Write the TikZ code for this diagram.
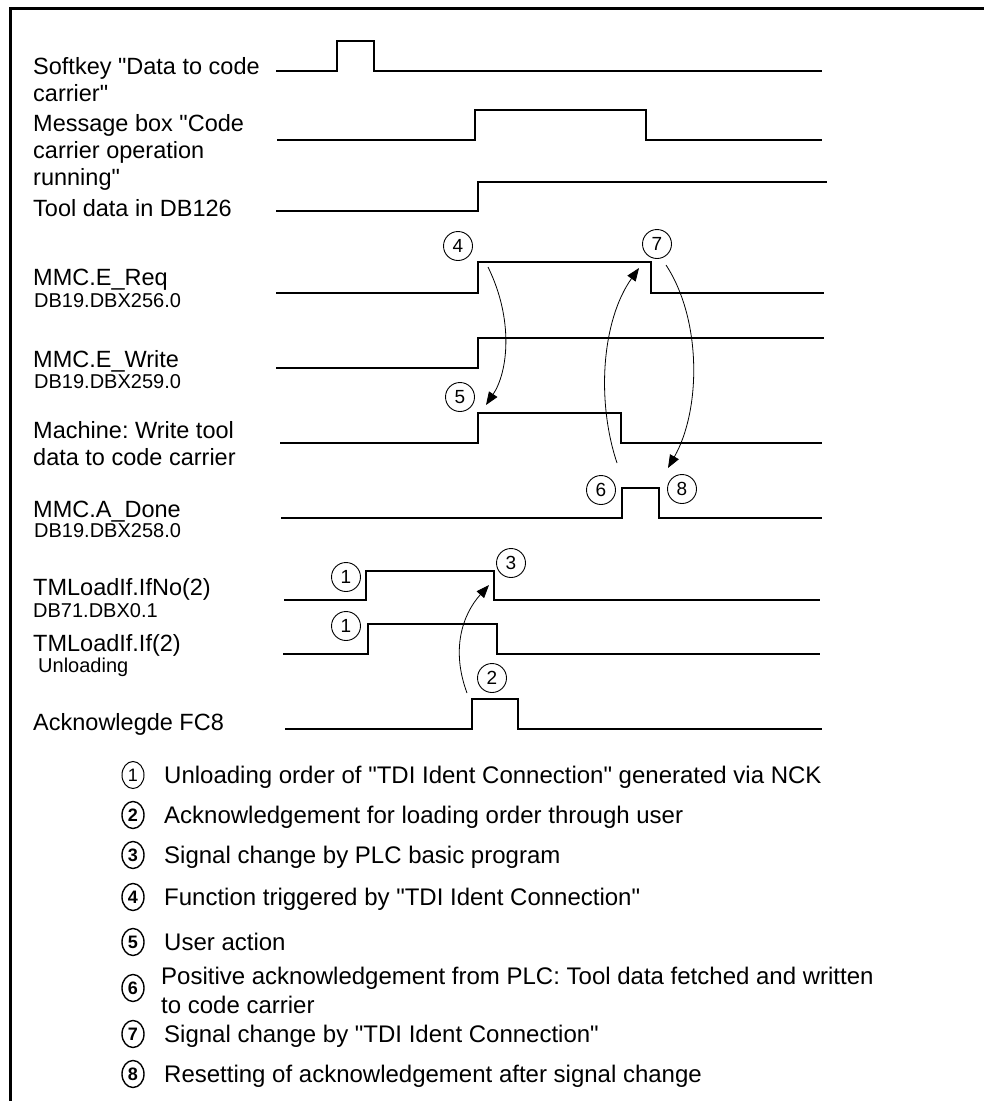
\documentclass[tikz,border=0pt]{standalone}
\usepackage{fontspec}
\setmainfont{Liberation Sans}[Ligatures=TeXOff]
\usetikzlibrary{shapes, arrows.meta, positioning}
\frenchspacing

\begin{document}
\begin{tikzpicture}[
    x=1pt, y=-1pt,
    signal/.style={line width=2.6pt},
    frame/.style={line width=2.8pt},
    signame/.style={anchor=base west, inner sep=0pt, align=left, font=\fontsize{23.5}{27}\selectfont},
    address/.style={anchor=base west, inner sep=0pt, font=\fontsize{20}{22}\selectfont},
    marker/.style={circle, draw, line width=0.9pt, minimum size=29pt, inner sep=0pt, font=\fontsize{19}{19}\selectfont},
    keymark/.style={ellipse, draw, line width=1.4pt, minimum width=22pt, minimum height=27pt, inner sep=0pt, font=\fontsize{18}{18}\selectfont\bfseries},
    keytext/.style={anchor=base west, inner sep=0pt, align=left, font=\fontsize{24}{29}\selectfont},
    flow/.style={-{Triangle[length=13pt,width=10pt]}, line width=0.8pt}
]
\useasboundingbox (0,0) rectangle (984,1101);
\draw[frame] (10.5,1120) -- (10.5,8.5) -- (1000,8.5);

% Signal names (base = last line)
\node[signame] (softkey) at (33,101) {Softkey "Data to code\\carrier"};
\node[signame] (msgbox) at (33,185) {Message box "Code\\carrier operation\\running"};
\node[signame] (tooldata) at (33,216) {Tool data in DB126};
\node[signame] (ereq) at (33,285) {MMC.E\_Req};
\node[address] (ereqadr) at (34,307) {DB19.DBX256.0};
\node[signame] (ewrite) at (33,367) {MMC.E\_Write};
\node[address] (ewriteadr) at (34,388) {DB19.DBX259.0};
\node[signame] (machine) at (33,465) {Machine: Write tool\\data to code carrier};
\node[signame] (adone) at (33,517) {MMC.A\_Done};
\node[address] (adoneadr) at (34,537) {DB19.DBX258.0};
\node[signame] (ifno) at (33,595) {TMLoadIf.IfNo(2)};
\node[address] (ifnoadr) at (33,617) {DB71.DBX0.1};
\node[signame] (ifload) at (33,651) {TMLoadIf.If(2)};
\node[address] (ifloadadr) at (38,672) {Unloading};
\node[signame] (ackfc) at (33,730) {Acknowlegde FC8};

% Waveforms
\draw[signal] (276,71) -- (337,71) -- (337,41) -- (374,41) -- (374,71) -- (822,71);
\draw[signal] (277,140) -- (475,140) -- (475,110) -- (646,110) -- (646,140) -- (822,140);
\draw[signal] (276,211) -- (478,211) -- (478,182) -- (827,182);
\draw[signal] (276,293) -- (478,293) -- (478,262) -- (651,262) -- (651,293) -- (824,293);
\draw[signal] (276,368) -- (478,368) -- (478,338) -- (824,338);
\draw[signal] (280,443) -- (478,443) -- (478,413) -- (621,413) -- (621,443) -- (822,443);
\draw[signal] (281,518) -- (622,518) -- (622,488) -- (659,488) -- (659,518) -- (822,518);
\draw[signal] (284,600) -- (366,600) -- (366,571) -- (494,571) -- (494,600) -- (820,600);
\draw[signal] (283,654) -- (368,654) -- (368,624) -- (497,624) -- (497,654) -- (820,654);
\draw[signal] (285,729) -- (472,729) -- (472,699) -- (518,699) -- (518,729) -- (822,729);

% Markers
\node[marker] (m4) at (458,246) {4};
\node[marker] (m7) at (657,244) {7};
\node[marker] (m5) at (460,397) {5};
\node[marker] (m6) at (601,490) {6};
\node[marker] (m8) at (682,489) {8};
\node[marker] (m1a) at (346,577) {1};
\node[marker] (m3) at (511,563) {3};
\node[marker] (m1b) at (346,626) {1};
\node[marker] (m2) at (492,678) {2};

% Arrow ends
\coordinate (reqhigh) at (488,267);
\coordinate (writeup) at (486,405);
\coordinate (donerise) at (617,463);
\coordinate (reqfall) at (639,268);
\coordinate (reqlow) at (666,265);
\coordinate (donefall) at (668,468);
\coordinate (ackrise) at (467,693);
\coordinate (ifnofall) at (489,585);

% Edges
\draw[flow] (reqhigh) .. controls (514,320) and (508,372) .. (writeup);
\draw[flow] (donerise) .. controls (596,400) and (602,320) .. (reqfall);
\draw[flow] (reqlow) .. controls (702,320) and (701,410) .. (donefall);
\draw[flow] (ackrise) .. controls (451,650) and (462,615) .. (ifnofall);

% Legend
\node[keymark, line width=1pt, font=\fontsize{18}{18}\selectfont] (k1) at (133,775) {1};
\node[keymark] (k2) at (133,815) {2};
\node[keymark] (k3) at (133,855) {3};
\node[keymark] (k4) at (133,897) {4};
\node[keymark] (k5) at (133,942) {5};
\node[keymark] (k6) at (133,988) {6};
\node[keymark] (k7) at (133,1034) {7};
\node[keymark] (k8) at (133,1074) {8};
\node[keytext] (t1) at (164,783) {Unloading order of "TDI Ident Connection" generated via NCK};
\node[keytext] (t2) at (164,823) {Acknowledgement for loading order through user};
\node[keytext] (t3) at (164,863) {Signal change by PLC basic program};
\node[keytext] (t4) at (164,905) {Function triggered by "TDI Ident Connection"};
\node[keytext] (t5) at (164,950) {User action};
\node[keytext] (t6) at (161,1013) {Positive acknowledgement from PLC: Tool data fetched and written\\to code carrier};
\node[keytext] (t7) at (164,1042) {Signal change by "TDI Ident Connection"};
\node[keytext] (t8) at (164,1082) {Resetting of acknowledgement after signal change};

\end{tikzpicture}
\end{document}
